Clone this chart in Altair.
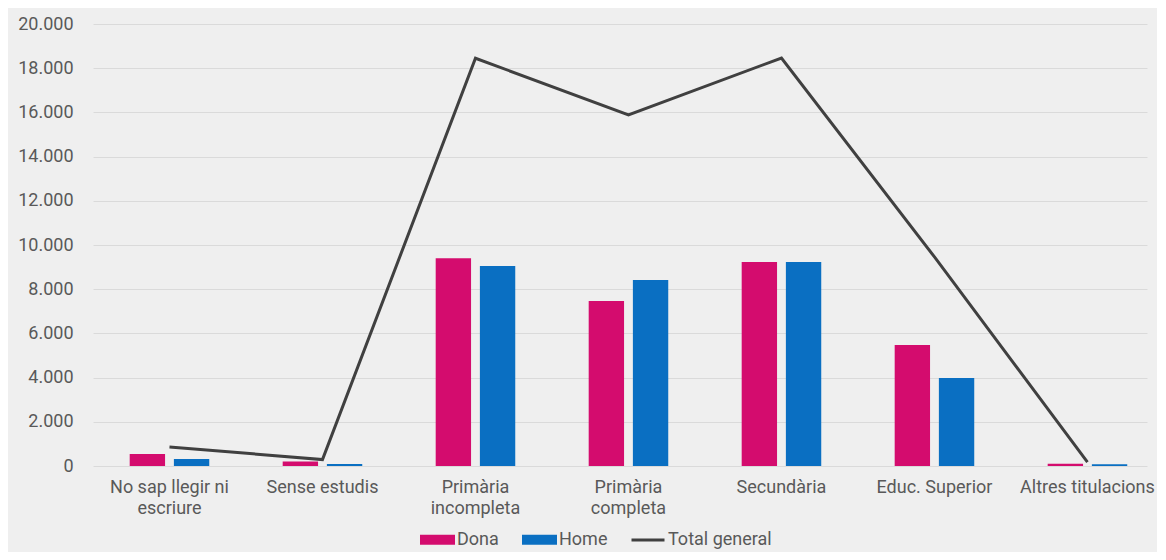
import altair as alt
import pandas as pd

categories = ["No sap llegir ni escriure", "Sense estudis", "Primària incompleta",
              "Primària completa", "Secundària", "Educ. Superior", "Altres titulacions"]
label_lines = [["No sap llegir ni", "escriure"], ["Sense estudis"], ["Primària", "incompleta"],
               ["Primària", "completa"], ["Secundària"], ["Educ. Superior"], ["Altres titulacions"]]
dona = [540, 200, 9400, 7470, 9230, 5480, 100]
home = [320, 90, 9050, 8420, 9230, 3980, 80]
total = [860, 290, 18450, 15890, 18460, 9460, 180]
y_ticks = [0, 2000, 4000, 6000, 8000, 10000, 12000, 14000, 16000, 18000, 20000]

FONT = "Roboto"
TXT = "#595959"
FS = 18

bars_df = pd.DataFrame({
    "cat": categories * 2,
    "sexe": ["Dona"] * len(categories) + ["Home"] * len(categories),
    "val": dona + home,
})
tot_df = pd.DataFrame({"cat": categories, "serie": ["Total general"] * len(categories), "val": total})

# label expression: map category -> list of lines
expr = "''"
for c, lines in reversed(list(zip(categories, label_lines))):
    arr = "[" + ",".join("'" + l + "'" for l in lines) + "]"
    expr = f"datum.label == '{c}' ? {arr} : ({expr})"

x_enc = alt.X("cat:N", sort=categories,
              scale=alt.Scale(paddingInner=0.48, paddingOuter=0.1845, align=0.65),
              axis=alt.Axis(title=None, labelAngle=0, labelExpr=expr, domain=False, ticks=False,
                            labelPadding=12, labelFontSize=FS, labelColor=TXT, labelFont=FONT,
                            labelLineHeight=21, grid=False))
y_enc = alt.Y("val:Q", scale=alt.Scale(domain=[0, 20000], nice=False),
              axis=alt.Axis(title=None, values=y_ticks, domain=False, ticks=False,
                            labelExpr="replace(format(datum.value, ','), ',', '.')",
                            labelPadding=20, labelFontSize=FS, labelColor=TXT, labelFont=FONT,
                            grid=True, gridColor="#dadada", gridWidth=1))

bars = alt.Chart(bars_df).mark_bar().encode(
    x=x_enc,
    y=y_enc,
    xOffset=alt.XOffset("sexe:N", scale=alt.Scale(paddingInner=0.2)),
    color=alt.Color("sexe:N",
                    scale=alt.Scale(domain=["Dona", "Home"], range=["#D40C6E", "#0A6FC2"]),
                    legend=alt.Legend(orient="none", legendX=327, legendY=498, direction="horizontal",
                                      title=None, symbolType="M-1,-0.28L1,-0.28L1,0.28L-1,0.28Z",
                                      symbolSize=1225, symbolStrokeWidth=0, labelFontSize=FS,
                                      labelColor=TXT, labelFont=FONT, labelOffset=2, columnPadding=23)),
)

line = alt.Chart(tot_df).mark_line(strokeWidth=3).encode(
    x=x_enc,
    y=y_enc,
    color=alt.Color("serie:N",
                    scale=alt.Scale(domain=["Total general"], range=["#404040"]),
                    legend=alt.Legend(orient="none", legendX=537, legendY=498, direction="horizontal",
                                      title=None, symbolType="stroke", symbolSize=1089,
                                      symbolStrokeWidth=3, labelFontSize=FS,
                                      labelColor=TXT, labelFont=FONT, labelOffset=2)),
)

chart = alt.layer(bars, line).resolve_scale(color="independent").properties(
    width=1054, height=442,
    autosize=alt.AutoSizeParams(type="none"),
    padding={"left": 85, "top": 16, "right": 10, "bottom": 86},
    background="#efefef",
).configure_view(stroke=None)

chart.save("out.html", embed_options={"renderer": "svg", "actions": False})
